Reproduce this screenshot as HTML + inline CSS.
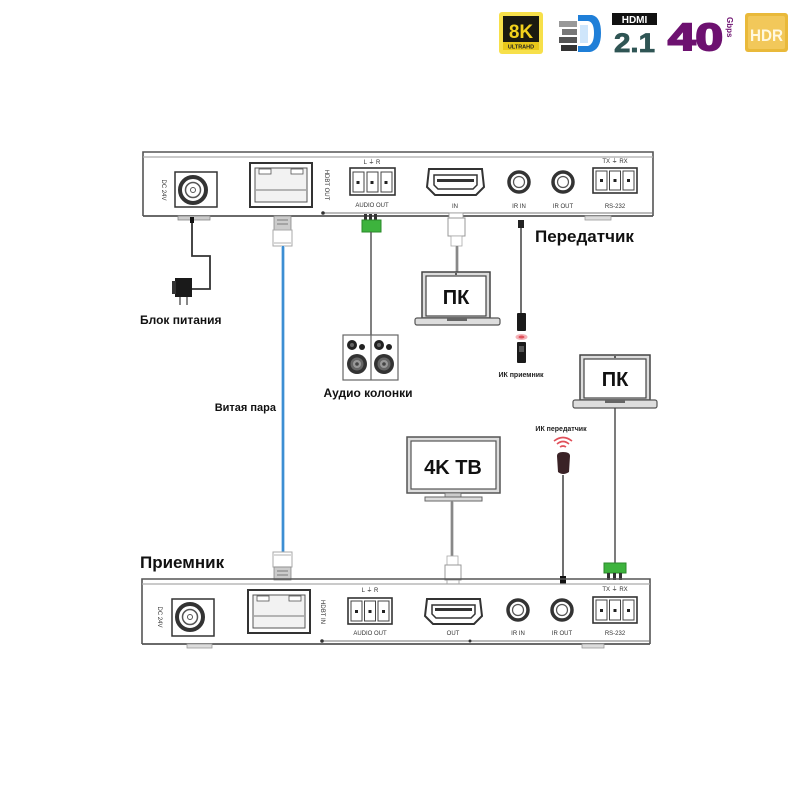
<!DOCTYPE html>
<html><head><meta charset="utf-8"><style>
html,body{margin:0;padding:0;background:#fff;}
svg{display:block;}
text{font-family:"Liberation Sans",sans-serif;}
</style></head><body>
<svg width="800" height="800" viewBox="0 0 800 800" xmlns="http://www.w3.org/2000/svg">
<rect width="800" height="800" fill="#fff"/>

<!-- ===== top logos ===== -->
<rect x="499" y="12" width="44" height="42" rx="3" fill="#f7e04a"/>
<rect x="503" y="16" width="36" height="34" fill="#1a1a10"/>
<text x="521" y="38" font-size="19" font-weight="bold" fill="#f2d21c" text-anchor="middle">8K</text>
<rect x="503" y="42" width="36" height="8" fill="#e8c81a"/>
<text x="521" y="48.5" font-size="5.5" font-weight="bold" fill="#222" text-anchor="middle">ULTRAHD</text>

<path d="M578 15 L592 15 Q601 17 601 33 Q601 50 590 52 L578 52 L578 46 L588 46 Q594 44 594 33 Q594 22 588 21 L578 21 Z" fill="#1f7fd8"/>
<rect x="559" y="21" width="18" height="6" fill="#999"/>
<rect x="562" y="29" width="15" height="6" fill="#777"/>
<rect x="559" y="37" width="18" height="6" fill="#555"/>
<rect x="561" y="45" width="16" height="6" fill="#333"/>
<rect x="580" y="25" width="8" height="18" fill="#cfe6fb"/>

<rect x="612" y="13" width="45" height="12" fill="#111"/>
<text x="634.5" y="23" font-size="10" font-weight="bold" fill="#fff" text-anchor="middle">HDMI</text>
<text x="614" y="52" font-size="27" font-weight="bold" fill="#2f5554" stroke="#2f5554" stroke-width="0.8" textLength="41" lengthAdjust="spacingAndGlyphs">2.1</text>

<text x="668" y="50" font-size="38" font-weight="bold" fill="#6d1170" stroke="#6d1170" stroke-width="2" textLength="55" lengthAdjust="spacingAndGlyphs">40</text>
<text x="0" y="0" font-size="8" font-weight="bold" fill="#6d1170" transform="translate(727,17) rotate(90)">Gbps</text>

<rect x="745" y="13" width="43" height="39" rx="3" fill="#e9b93a"/>
<rect x="748" y="16" width="37" height="33" rx="2" fill="#f2c85a"/>
<text x="750" y="41" font-size="17" font-weight="bold" fill="#fff8e0" textLength="33" lengthAdjust="spacingAndGlyphs">HDR</text>

<!-- ===== TRANSMITTER box ===== -->
<g stroke="#555" fill="none">
  <path d="M143 216 L143 152 L653 152 L653 216" stroke-width="1.6"/>
  <line x1="143" y1="157" x2="653" y2="157" stroke="#aaa" stroke-width="1.2"/>
  <line x1="143" y1="216" x2="653" y2="216" stroke-width="1.8"/>
  <line x1="322" y1="213" x2="653" y2="213" stroke="#777" stroke-width="1"/>
</g>
<circle cx="323" cy="213" r="1.8" fill="#333"/>
<rect x="178" y="216" width="32" height="4" fill="#ccc" stroke="#888" stroke-width="0.8"/>
<rect x="585" y="216" width="26" height="4" fill="#ddd" stroke="#999" stroke-width="0.8"/>

<!-- DC -->
<text font-size="6" fill="#333" transform="translate(162,190) rotate(90)" text-anchor="middle">DC 24V</text>
<rect x="175" y="172" width="42" height="35" fill="#fff" stroke="#333" stroke-width="1.5"/>
<circle cx="193" cy="190" r="13" fill="none" stroke="#333" stroke-width="4"/>
<circle cx="193" cy="190" r="7.5" fill="none" stroke="#555" stroke-width="1.5"/>
<circle cx="193" cy="190" r="2.5" fill="none" stroke="#555" stroke-width="1"/>
<!-- RJ45 -->
<rect x="250" y="163" width="62" height="44" fill="#fff" stroke="#333" stroke-width="2"/>
<rect x="255" y="168" width="52" height="34" fill="#f2f2f2" stroke="#555" stroke-width="1"/>
<rect x="259" y="169" width="12" height="5" fill="#fff" stroke="#555" stroke-width="0.8"/>
<rect x="291" y="169" width="12" height="5" fill="#fff" stroke="#555" stroke-width="0.8"/>
<line x1="256" y1="190" x2="306" y2="190" stroke="#777" stroke-width="1"/>
<text font-size="6" fill="#333" transform="translate(325,185) rotate(90)" text-anchor="middle">HDBT OUT</text>
<!-- audio out -->
<text x="372" y="164" font-size="6" fill="#333" text-anchor="middle">L  ⏚  R</text>
<rect x="350" y="168" width="45" height="27" fill="#fff" stroke="#333" stroke-width="1.6"/>
<g fill="#fff" stroke="#444" stroke-width="1">
<rect x="353" y="172" width="11" height="20"/><rect x="367" y="172" width="11" height="20"/><rect x="381" y="172" width="11" height="20"/></g>
<g fill="#222"><rect x="356.5" y="181" width="3" height="3"/><rect x="370.5" y="181" width="3" height="3"/><rect x="384.5" y="181" width="3" height="3"/></g>
<text x="372" y="207" font-size="6" fill="#333" text-anchor="middle">AUDIO OUT</text>
<!-- HDMI IN -->
<path d="M429 169 L482 169 L484 187 L476 195 L435 195 L427 187 Z" fill="#fff" stroke="#333" stroke-width="2"/>
<path d="M434 175 L477 175 L477 185 L473 189 L438 189 L434 185 Z" fill="#fff" stroke="#333" stroke-width="1.5"/>
<rect x="437" y="179" width="37" height="3" fill="#333"/>
<text x="455" y="208" font-size="6" fill="#333" text-anchor="middle">IN</text>
<!-- IR IN / OUT -->
<circle cx="519" cy="182" r="10" fill="none" stroke="#333" stroke-width="3.5"/>
<circle cx="519" cy="182" r="5.5" fill="none" stroke="#555" stroke-width="1.2"/>
<text x="519" y="208" font-size="6" fill="#333" text-anchor="middle">IR IN</text>
<circle cx="563" cy="182" r="10" fill="none" stroke="#333" stroke-width="3.5"/>
<circle cx="563" cy="182" r="5.5" fill="none" stroke="#555" stroke-width="1.2"/>
<text x="563" y="208" font-size="6" fill="#333" text-anchor="middle">IR OUT</text>
<!-- RS232 -->
<text x="615" y="163" font-size="6" fill="#333" text-anchor="middle">TX  ⏚  RX</text>
<rect x="593" y="168" width="44" height="25" fill="#fff" stroke="#333" stroke-width="1.6"/>
<g fill="#fff" stroke="#444" stroke-width="1">
<rect x="596" y="171" width="11" height="19"/><rect x="609.5" y="171" width="11" height="19"/><rect x="623" y="171" width="11" height="19"/></g>
<g fill="#222"><rect x="600" y="179" width="3" height="3"/><rect x="613.5" y="179" width="3" height="3"/><rect x="627" y="179" width="3" height="3"/></g>
<text x="615" y="208" font-size="6" fill="#333" text-anchor="middle">RS-232</text>

<text x="535" y="242" font-size="17" font-weight="bold" fill="#111">Передатчик</text>

<!-- power cable & adapter -->
<path d="M192 218 L192 256 L210 256 L210 289 L192 289" fill="none" stroke="#333" stroke-width="1.8"/>
<rect x="190" y="217" width="4" height="6" fill="#111"/>
<rect x="175" y="278" width="17" height="19" fill="#1a1a1a"/>
<rect x="172" y="281" width="4" height="13" fill="#333"/>
<line x1="180" y1="297" x2="180" y2="305" stroke="#888" stroke-width="2"/>
<line x1="187" y1="297" x2="187" y2="305" stroke="#888" stroke-width="2"/>
<text x="140" y="324" font-size="12" font-weight="bold" fill="#111">Блок питания</text>

<!-- twisted pair -->
<rect x="274" y="216" width="17" height="14" fill="#ccc" stroke="#888" stroke-width="0.8"/>
<g stroke="#666" stroke-width="0.8"><line x1="277" y1="220" x2="288" y2="220"/><line x1="277" y1="224" x2="288" y2="224"/></g>
<rect x="273" y="230" width="19" height="16" fill="#fff" stroke="#aaa" stroke-width="1"/>
<line x1="274" y1="243" x2="291" y2="243" stroke="#999" stroke-width="0.8"/>
<line x1="283" y1="246" x2="283" y2="553" stroke="#b8d6ef" stroke-width="4"/>
<line x1="283" y1="246" x2="283" y2="553" stroke="#2f86d0" stroke-width="1.8"/>
<rect x="273" y="552" width="19" height="15" fill="#fff" stroke="#aaa" stroke-width="1"/>
<line x1="274" y1="555" x2="291" y2="555" stroke="#999" stroke-width="0.8"/>
<rect x="274" y="567" width="17" height="13" fill="#ccc" stroke="#888" stroke-width="0.8"/>
<g stroke="#666" stroke-width="0.8"><line x1="277" y1="571" x2="288" y2="571"/><line x1="277" y1="575" x2="288" y2="575"/></g>
<text x="276" y="411" font-size="11" font-weight="bold" fill="#111" text-anchor="end">Витая пара</text>

<!-- audio cable & speakers -->
<g fill="#333"><rect x="364" y="214" width="3" height="6"/><rect x="369" y="214" width="3" height="6"/><rect x="374" y="214" width="3" height="6"/></g>
<rect x="362" y="220" width="19" height="12" fill="#3db33d" stroke="#2a8a2a" stroke-width="1"/>
<line x1="371" y1="232" x2="371" y2="336" stroke="#555" stroke-width="1.5"/>
<rect x="343" y="335" width="55" height="45" fill="#fff" stroke="#666" stroke-width="1.2"/>
<line x1="371" y1="335" x2="371" y2="380" stroke="#666" stroke-width="1.2"/>
<g>
<circle cx="352" cy="345" r="5" fill="#222"/><circle cx="352" cy="345" r="2" fill="#666"/>
<circle cx="362" cy="347" r="3" fill="#222"/>
<circle cx="357" cy="364" r="10" fill="#333"/><circle cx="357" cy="364" r="6.5" fill="#666"/><circle cx="357" cy="364" r="4" fill="#999"/><circle cx="357" cy="364" r="1.8" fill="#444"/>
<circle cx="379" cy="345" r="5" fill="#222"/><circle cx="379" cy="345" r="2" fill="#666"/>
<circle cx="389" cy="347" r="3" fill="#222"/>
<circle cx="384" cy="364" r="10" fill="#333"/><circle cx="384" cy="364" r="6.5" fill="#666"/><circle cx="384" cy="364" r="4" fill="#999"/><circle cx="384" cy="364" r="1.8" fill="#444"/>
</g>
<text x="368" y="397" font-size="12" font-weight="bold" fill="#111" text-anchor="middle">Аудио колонки</text>

<!-- HDMI cable to PC1 -->
<rect x="449" y="213" width="14" height="5" fill="#fff" stroke="#999" stroke-width="0.8"/>
<rect x="448" y="218" width="17" height="18" fill="#fff" stroke="#999" stroke-width="1"/>
<rect x="451" y="236" width="11" height="10" fill="#fff" stroke="#aaa" stroke-width="0.8"/>
<line x1="457" y1="246" x2="457" y2="272" stroke="#aaa" stroke-width="3"/>
<line x1="457" y1="246" x2="457" y2="272" stroke="#666" stroke-width="1"/>
<!-- PC1 laptop -->
<rect x="422" y="272" width="68" height="46" fill="#ddd" stroke="#444" stroke-width="1.5"/>
<rect x="426" y="276" width="60" height="40" fill="#fff" stroke="#444" stroke-width="1.2"/>
<circle cx="456" cy="274" r="1" fill="#333"/>
<rect x="415" y="318" width="85" height="7" rx="2" fill="#ddd" stroke="#555" stroke-width="1.2"/>
<rect x="447" y="318" width="20" height="3" fill="#666"/>
<text x="456" y="304" font-size="20" font-weight="bold" fill="#111" text-anchor="middle">ПК</text>

<!-- IR receiver -->
<rect x="518" y="220" width="6" height="8" fill="#222"/>
<line x1="521" y1="228" x2="521" y2="313" stroke="#333" stroke-width="1.4"/>
<rect x="517" y="313" width="9" height="18" rx="1" fill="#1a1a1a"/>
<ellipse cx="521.5" cy="337" rx="6" ry="3" fill="#f4b2b8"/>
<ellipse cx="521.5" cy="337" rx="3" ry="1.5" fill="#e0505a"/>
<rect x="517" y="342" width="9" height="21" rx="1" fill="#1a1a1a"/>
<rect x="519" y="346" width="5" height="6" fill="#555"/>
<text x="521" y="377" font-size="7" font-weight="bold" fill="#222" text-anchor="middle">ИК приемник</text>

<!-- PC2 laptop -->
<rect x="580" y="355" width="70" height="45" fill="#ddd" stroke="#444" stroke-width="1.5"/>
<rect x="584" y="359" width="62" height="39" fill="#fff" stroke="#444" stroke-width="1.2"/>
<circle cx="615" cy="357" r="1" fill="#333"/>
<rect x="573" y="400" width="84" height="8" rx="2" fill="#ddd" stroke="#555" stroke-width="1.2"/>
<rect x="605" y="400" width="20" height="3" fill="#666"/>
<text x="615" y="386" font-size="20" font-weight="bold" fill="#111" text-anchor="middle">ПК</text>
<line x1="615" y1="408" x2="615" y2="563" stroke="#444" stroke-width="1.4"/>
<rect x="604" y="563" width="22" height="10" fill="#3db33d" stroke="#2a8a2a" stroke-width="1"/>
<g fill="#333"><rect x="607" y="573" width="3" height="7"/><rect x="613" y="573" width="3" height="7"/><rect x="619" y="573" width="3" height="7"/></g>

<!-- IR transmitter -->
<text x="561" y="431" font-size="7" font-weight="bold" fill="#222" text-anchor="middle">ИК передатчик</text>
<path d="M554 441 Q563 434 572 441" fill="none" stroke="#e0505a" stroke-width="1.6"/>
<path d="M557 444 Q563 439 569 444" fill="none" stroke="#e0505a" stroke-width="1.6"/>
<path d="M560 447 Q563 445 566 447" fill="none" stroke="#e0505a" stroke-width="1.6"/>
<path d="M557 456 Q557 452 563 452 Q570 452 570 456 L569 472 Q563 476 558 472 Z" fill="#3a2226"/>
<line x1="563" y1="475" x2="563" y2="577" stroke="#333" stroke-width="1.4"/>
<rect x="560" y="576" width="6" height="8" fill="#111"/>

<!-- 4K TV -->
<rect x="407" y="437" width="93" height="56" fill="#ddd" stroke="#555" stroke-width="1.5"/>
<rect x="411" y="441" width="85" height="48" fill="#fff" stroke="#555" stroke-width="1.2"/>
<rect x="445" y="493" width="16" height="4" fill="#ccc" stroke="#666" stroke-width="0.8"/>
<rect x="425" y="497" width="57" height="4" fill="#ddd" stroke="#666" stroke-width="1"/>
<text x="453" y="474" font-size="20" font-weight="bold" fill="#111" text-anchor="middle">4K ТВ</text>
<line x1="452" y1="501" x2="452" y2="556" stroke="#aaa" stroke-width="3"/>
<line x1="452" y1="501" x2="452" y2="556" stroke="#666" stroke-width="1"/>
<rect x="447" y="556" width="11" height="9" fill="#fff" stroke="#aaa" stroke-width="0.8"/>
<rect x="445" y="565" width="16" height="15" fill="#fff" stroke="#999" stroke-width="1"/>
<rect x="447" y="580" width="12" height="4" fill="#fff" stroke="#999" stroke-width="0.8"/>

<text x="140" y="568" font-size="17" font-weight="bold" fill="#111">Приемник</text>

<!-- ===== RECEIVER box ===== -->
<g stroke="#555" fill="none">
  <path d="M142 644 L142 579 L650 579 L650 644" stroke-width="1.6"/>
  <line x1="142" y1="584" x2="650" y2="584" stroke="#aaa" stroke-width="1.2"/>
  <line x1="142" y1="644" x2="650" y2="644" stroke-width="1.8"/>
  <line x1="322" y1="641" x2="650" y2="641" stroke="#777" stroke-width="1"/>
</g>
<circle cx="322" cy="641" r="1.8" fill="#333"/>
<circle cx="470" cy="641" r="1.5" fill="#333"/>
<rect x="187" y="644" width="25" height="4" fill="#ddd" stroke="#999" stroke-width="0.8"/>
<rect x="582" y="644" width="22" height="4" fill="#ddd" stroke="#999" stroke-width="0.8"/>

<text font-size="6" fill="#333" transform="translate(158,617) rotate(90)" text-anchor="middle">DC 24V</text>
<rect x="172" y="599" width="42" height="37" fill="#fff" stroke="#333" stroke-width="1.5"/>
<circle cx="190" cy="617" r="13" fill="none" stroke="#333" stroke-width="4"/>
<circle cx="190" cy="617" r="7.5" fill="none" stroke="#555" stroke-width="1.5"/>
<circle cx="190" cy="617" r="2.5" fill="none" stroke="#555" stroke-width="1"/>

<rect x="248" y="590" width="62" height="43" fill="#fff" stroke="#333" stroke-width="2"/>
<rect x="253" y="595" width="52" height="33" fill="#f2f2f2" stroke="#555" stroke-width="1"/>
<rect x="257" y="596" width="12" height="5" fill="#fff" stroke="#555" stroke-width="0.8"/>
<rect x="289" y="596" width="12" height="5" fill="#fff" stroke="#555" stroke-width="0.8"/>
<line x1="254" y1="616" x2="304" y2="616" stroke="#777" stroke-width="1"/>
<text font-size="6" fill="#333" transform="translate(321,612) rotate(90)" text-anchor="middle">HDBT IN</text>

<text x="370" y="592" font-size="6" fill="#333" text-anchor="middle">L  ⏚  R</text>
<rect x="348" y="598" width="44" height="26" fill="#fff" stroke="#333" stroke-width="1.6"/>
<g fill="#fff" stroke="#444" stroke-width="1">
<rect x="351" y="601" width="11" height="20"/><rect x="364.5" y="601" width="11" height="20"/><rect x="378" y="601" width="11" height="20"/></g>
<g fill="#222"><rect x="355" y="610" width="3" height="3"/><rect x="368.5" y="610" width="3" height="3"/><rect x="382" y="610" width="3" height="3"/></g>
<text x="370" y="635" font-size="6" fill="#333" text-anchor="middle">AUDIO OUT</text>

<path d="M427 599 L480 599 L482 616 L474 624 L433 624 L425 616 Z" fill="#fff" stroke="#333" stroke-width="2"/>
<path d="M432 605 L475 605 L475 614 L471 618 L436 618 L432 614 Z" fill="#fff" stroke="#333" stroke-width="1.5"/>
<rect x="435" y="608" width="37" height="3" fill="#333"/>
<text x="453" y="635" font-size="6" fill="#333" text-anchor="middle">OUT</text>

<circle cx="518" cy="610" r="10" fill="none" stroke="#333" stroke-width="3.5"/>
<circle cx="518" cy="610" r="5.5" fill="none" stroke="#555" stroke-width="1.2"/>
<text x="518" y="635" font-size="6" fill="#333" text-anchor="middle">IR IN</text>
<circle cx="562" cy="610" r="10" fill="none" stroke="#333" stroke-width="3.5"/>
<circle cx="562" cy="610" r="5.5" fill="none" stroke="#555" stroke-width="1.2"/>
<text x="562" y="635" font-size="6" fill="#333" text-anchor="middle">IR OUT</text>

<text x="615" y="591" font-size="6" fill="#333" text-anchor="middle">TX  ⏚  RX</text>
<rect x="593" y="597" width="44" height="26" fill="#fff" stroke="#333" stroke-width="1.6"/>
<g fill="#fff" stroke="#444" stroke-width="1">
<rect x="596" y="600" width="11" height="20"/><rect x="609.5" y="600" width="11" height="20"/><rect x="623" y="600" width="11" height="20"/></g>
<g fill="#222"><rect x="600" y="609" width="3" height="3"/><rect x="613.5" y="609" width="3" height="3"/><rect x="627" y="609" width="3" height="3"/></g>
<text x="615" y="635" font-size="6" fill="#333" text-anchor="middle">RS-232</text>
</svg>
</body></html>
